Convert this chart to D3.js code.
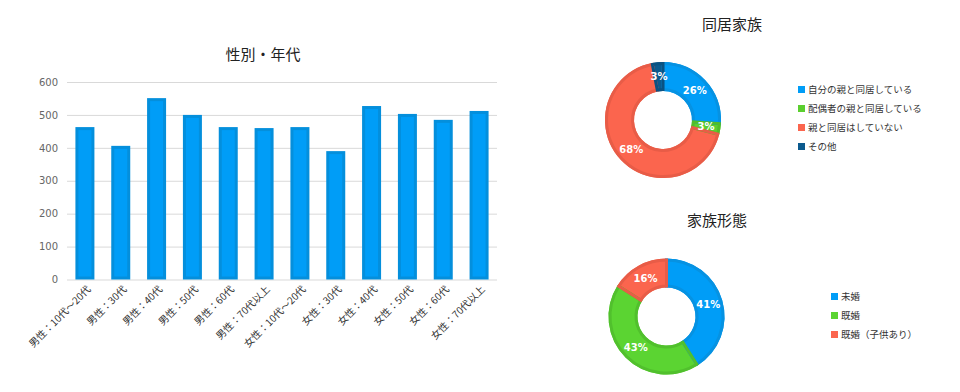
<!DOCTYPE html>
<html><head><meta charset="utf-8">
<script src="https://cdn.jsdelivr.net/npm/d3@7"></script>
<style>
body{margin:0;background:#fff;}
text{font-family:"DejaVu Sans","Noto Sans CJK JP",sans-serif;}
</style></head>
<body><svg id="c" width="960" height="392"></svg>
<script>
const barCategories = ["男性：10代〜20代","男性：30代","男性：40代","男性：50代","男性：60代","男性：70代以上","女性：10代〜20代","女性：30代","女性：40代","女性：50代","女性：60代","女性：70代以上"];
const barValues = [463,406,551,500,463,460,463,390,527,503,485,512];
const yTicks = [0,100,200,300,400,500,600];

const pie1Labels = ["自分の親と同居している","配偶者の親と同居している","親と同居はしていない","その他"];
const pie1Values = [26,3,68,3];
const pie2Labels = ["未婚","既婚","既婚（子供あり）"];
const pie2Values = [41,43,16];

const svg = d3.select("#c");
const cjk = '"Noto Sans CJK JP",sans-serif';

// Bar chart
const x = d3.scaleBand().domain(barCategories).range([67,497]).paddingInner(0.47).paddingOuter(0.235);
const y = d3.scaleLinear().domain([0,600]).range([279.5,82]);

svg.append("text").attr("x",263).attr("y",60).attr("text-anchor","middle")
  .style("font-family",cjk).style("font-size","15px").attr("fill","#222").text("性別・年代");

const yAxis = svg.append("g").attr("transform","translate(67,0)")
  .call(d3.axisLeft(y).tickValues(yTicks).tickSize(-430).tickPadding(9));
yAxis.select(".domain").remove();
yAxis.selectAll(".tick line").attr("stroke","#d9d9d9");
yAxis.selectAll(".tick text").attr("fill","#666").style("font-size","10px");

const bw = x.bandwidth();
svg.append("g").selectAll("rect").data(barValues).join("rect")
  .attr("x",(d,i)=>x(barCategories[i])+1.5)
  .attr("y",d=>y(d)+1.5)
  .attr("width",bw-3)
  .attr("height",d=>y(0)-y(d)-3)
  .attr("fill","#009df7").attr("stroke","#048fdc").attr("stroke-width",3);

const xAxis = svg.append("g").attr("transform","translate(0,279.5)")
  .call(d3.axisBottom(x).tickSize(0).tickPadding(0));
xAxis.select(".domain").remove();
xAxis.selectAll(".tick text")
  .attr("text-anchor","end")
  .attr("transform","translate(4,8) rotate(-45)")
  .attr("dy","0.35em")
  .style("font-family",cjk).style("font-size","10px").attr("fill","#333");

// Donuts
function donut(cx, cy, title, tx, ty, labels, values, colors, strokes, lx, ly){
  svg.append("text").attr("x",tx).attr("y",ty).attr("text-anchor","middle")
    .style("font-family",cjk).style("font-size","15px").attr("fill","#222").text(title);
  const g = svg.append("g").attr("transform",`translate(${cx},${cy})`);
  const pie = d3.pie().sort(null).value(d=>d)(values);
  const rO = 58, rI = 29;
  const arcIn = d3.arc().innerRadius(rI+1.5).outerRadius(rO-1.5);
  const arcFull = d3.arc().innerRadius(rI).outerRadius(rO);
  g.selectAll("path.f").data(pie).join("path").attr("class","f")
    .attr("d",arcFull).attr("fill",(d,i)=>colors[i]);
  g.selectAll("path.s").data(pie).join("path").attr("class","s")
    .attr("d",arcIn).attr("fill","none").attr("stroke",(d,i)=>strokes[i]).attr("stroke-width",3);
  const lab = d3.arc().innerRadius((rO+rI)/2).outerRadius((rO+rI)/2);
  g.selectAll("text").data(pie).join("text")
    .attr("transform",d=>`translate(${lab.centroid(d)})`)
    .attr("text-anchor","middle").attr("dy","0.35em")
    .attr("fill","#fff").style("font-weight","bold").style("font-size","10px")
    .text(d=>d.data+"%");
  const lg = svg.append("g");
  labels.forEach((l,i)=>{
    lg.append("rect").attr("x",lx).attr("y",ly+i*19-4).attr("width",7).attr("height",7).attr("fill",colors[i]);
    lg.append("text").attr("x",lx+10).attr("y",ly+i*19).attr("dy","0.35em")
      .style("font-family",cjk).style("font-size","9.5px").attr("fill","#333").text(l);
  });
}
donut(663,120,"同居家族",732,30,pie1Labels,pie1Values,
  ["#009df7","#5bcf2f","#fb654e","#0b5a8e"],["#0692e2","#51bd2a","#e85c47","#0a5282"],798,90);
donut(666.5,316.5,"家族形態",717,226,pie2Labels,pie2Values,
  ["#009df7","#5bd432","#fb654e"],["#0692e2","#51c02d","#e85c47"],831,297);
</script></body></html>
